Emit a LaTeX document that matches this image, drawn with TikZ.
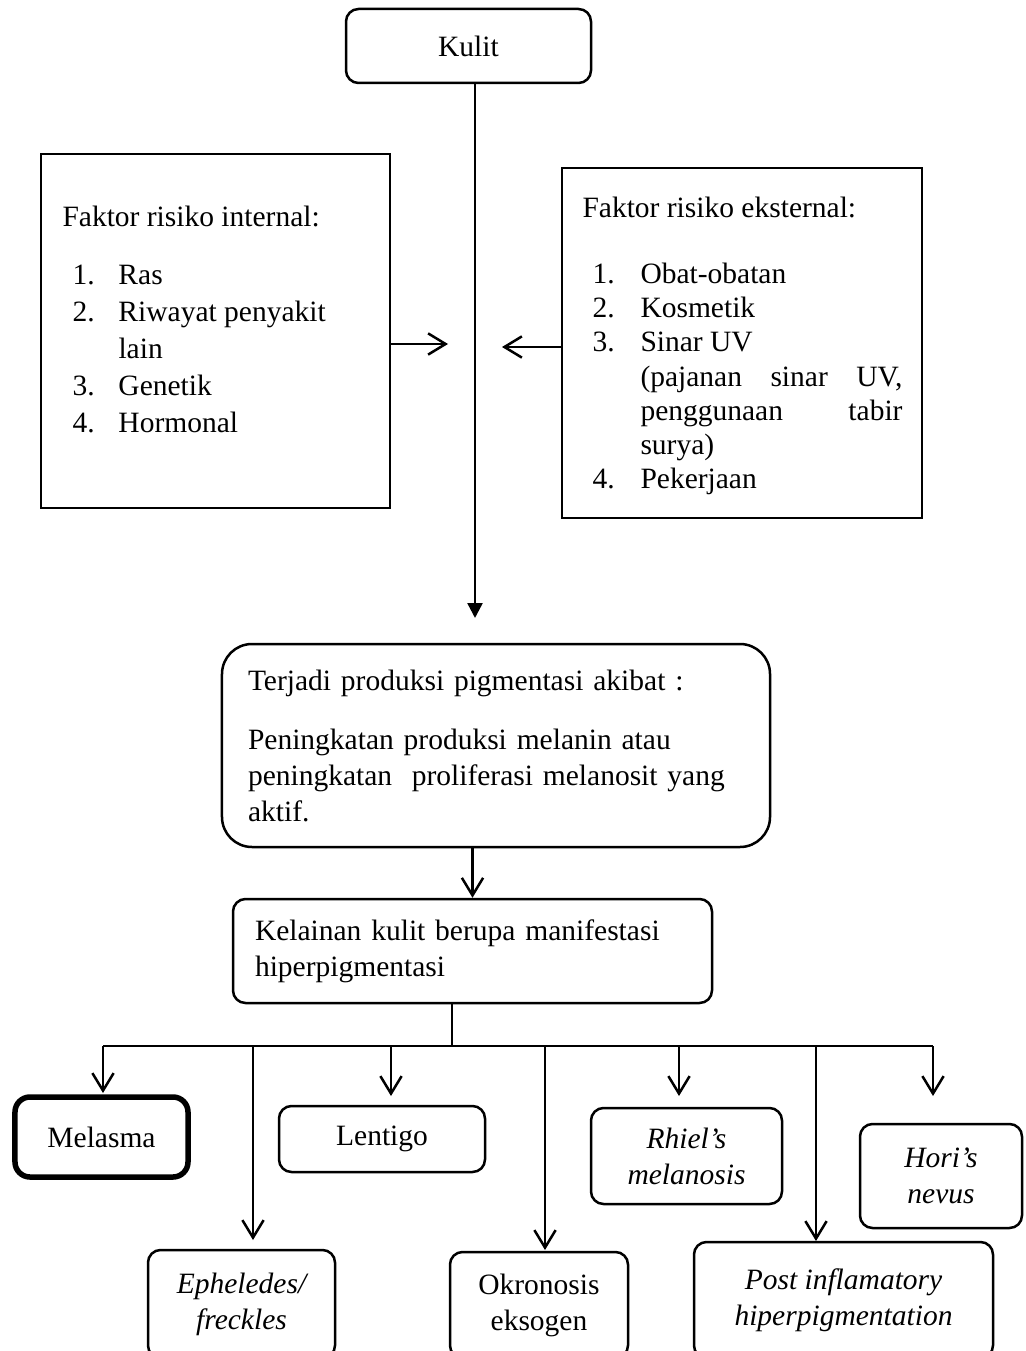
\documentclass[tikz,border=0pt]{standalone}
\usepackage{fontspec}
\setmainfont{Liberation Serif}
\usetikzlibrary{arrows.meta}

\begin{document}
\begin{tikzpicture}[x=0.4pt, y=-0.4pt,
    font=\fontsize{11.8}{14.4}\selectfont,
    roundbox/.style={draw, line width=1pt, rounded corners=5pt, align=center, inner sep=0pt},
    listbox/.style={draw, line width=1pt, inner sep=0pt},
    barb/.style={line width=1pt, -{Straight Barb[length=7pt,width=8.5pt]}},
    feed/.style={line width=1pt, -{Triangle[length=6pt,width=6pt]}},
    trunk/.style={line width=0.6pt}]
    \useasboundingbox (0,0) rectangle (1025,1351);
    \clip (0,0) rectangle (1025,1351);

    % top
    \node[roundbox, minimum width=98pt, minimum height=29.6pt] (kulit) at (468.5,46) {Kulit};

    % risk factors
    \node[listbox, minimum width=139.6pt, minimum height=141.6pt] (intern) at (215.5,331) {};
    \node[anchor=base west, inner sep=0pt, font=\fontsize{11.8}{14.7}\selectfont] (internText) at (62,227) {%
        \begin{tabular}[t]{@{\hspace{4pt}}p{18.4pt}@{}l@{}}
            \multicolumn{2}{@{}l@{}}{Faktor risiko internal:}\\[8.5pt]
            1. & Ras\\
            2. & Riwayat penyakit\\
               & lain\\
            3. & Genetik\\
            4. & Hormonal
        \end{tabular}};
    \node[listbox, minimum width=144pt, minimum height=140pt] (extern) at (742,343) {};
    \node[anchor=base west, inner sep=0pt, font=\fontsize{11.8}{13.6}\selectfont] (externText) at (582,218) {%
        \begin{tabular}[t]{@{\hspace{4pt}}p{19.2pt}@{}l@{}}
            \multicolumn{2}{@{}l@{}}{Faktor risiko eksternal:}\\[12.8pt]
            1. & Obat-obatan\\
            2. & Kosmetik\\
            3. & Sinar UV\\
               & \makebox[104.8pt][s]{(pajanan sinar UV,}\\
               & \makebox[104.8pt][s]{penggunaan tabir}\\
               & surya)\\
            4. & Pekerjaan
        \end{tabular}};

    % middle
    \node[roundbox, rounded corners=12pt, align=left, text width=198.4pt, inner xsep=10.4pt,
          minimum height=81.2pt] (cause) at (496,745.5)
        {Terjadi produksi pigmentasi akibat :\\[9.2pt]
         Peningkatan produksi melanin atau\\
         \mbox{peningkatan\ \ proliferasi melanosit yang}\\
         aktif.};
    \node[roundbox, align=left, text width=174pt, inner xsep=8.8pt,
          minimum height=41.6pt] (kelainan) at (472.5,951)
        {Kelainan kulit berupa manifestasi\\ hiperpigmentasi};

    % bottom row
    \node[roundbox, line width=2.2pt, rounded corners=6pt, minimum width=69.2pt, minimum height=32pt] (melasma) at (101.5,1137) {Melasma};
    \node[roundbox, minimum width=82.4pt, minimum height=26.4pt] (lentigo) at (382,1139) {Lentigo};
    \node[roundbox, minimum width=76.4pt, minimum height=38.4pt, font=\fontsize{11.8}{14.4}\selectfont\itshape] (rhiel) at (686.5,1156) {Rhiel’s\\ melanosis};
    \node[roundbox, minimum width=64.8pt, minimum height=41.6pt, font=\fontsize{11.8}{14.4}\selectfont\itshape] (hori) at (941,1176) {Hori’s\\ nevus};
    \node[roundbox, minimum width=74.8pt, minimum height=43.2pt, font=\fontsize{11.8}{14.4}\selectfont\itshape] (epheledes) at (241.5,1304) {Epheledes/\\ freckles};
    \node[roundbox, minimum width=71.2pt, minimum height=42.4pt] (okronosis) at (539,1305) {Okronosis\\ eksogen};
    \node[roundbox, minimum width=119.6pt, minimum height=46.4pt, font=\fontsize{11.8}{14.4}\selectfont\itshape] (post) at (843.5,1300) {Post inflamatory\\ hiperpigmentation};

    % connectors
    \coordinate (kulitTip) at (475,618);
    \coordinate (internTip) at (448,344);
    \coordinate (externTip) at (502,347);
    \coordinate (hub) at (452,1046);
    \coordinate (melasmaTip) at (103,1093);
    \coordinate (epheledesTip) at (253,1240);
    \coordinate (lentigoTip) at (391,1096);
    \coordinate (okronosisTip) at (545,1250);
    \coordinate (rhielTip) at (679,1096);
    \coordinate (postTip) at (816,1241);
    \coordinate (horiTip) at (933,1096);

    \draw[feed] (kulit.south -| kulitTip) -- (kulitTip);
    \draw[barb] (intern.east |- internTip) -- (internTip);
    \draw[barb] (extern.west |- externTip) -- (externTip);
    \draw[barb] (cause.south -| kelainan.north) -- (kelainan.north);
    \draw[trunk] (kelainan.south -| hub) -- (hub);
    \draw[trunk] (hub -| melasmaTip) -- (hub -| horiTip);
    \foreach \leaf in {melasma,epheledes,lentigo,okronosis,rhiel,post,hori}
        \draw[barb] (hub -| \leaf Tip) -- (\leaf Tip);
\end{tikzpicture}
\end{document}
